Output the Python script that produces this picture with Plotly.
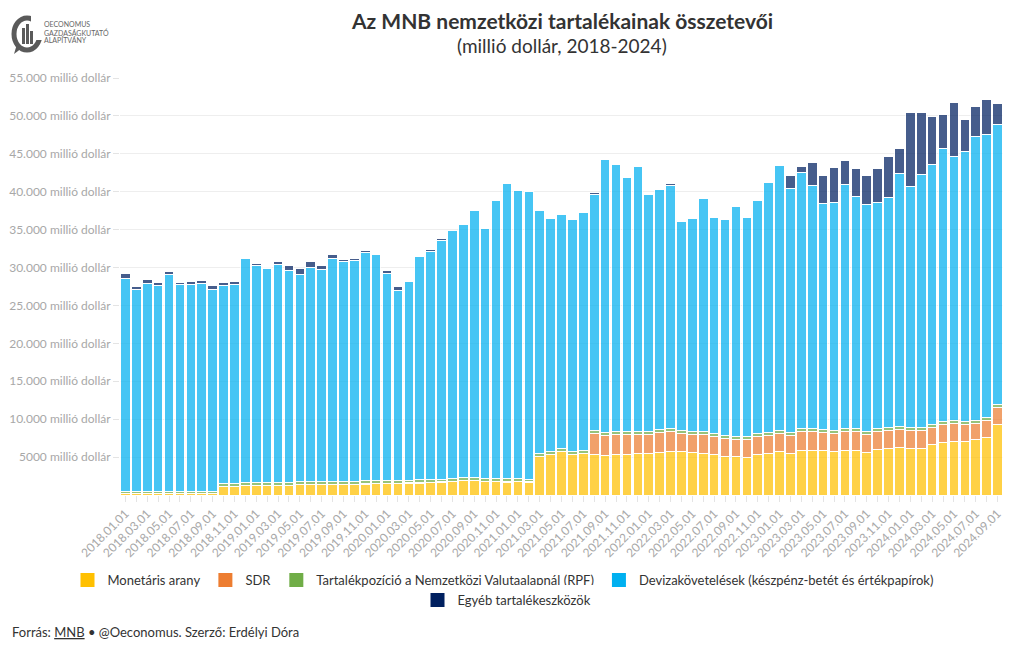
import plotly.graph_objects as go

# ---------------- DATA ----------------
dates = [
    "2018.01.01", "2018.02.01", "2018.03.01", "2018.04.01", "2018.05.01", "2018.06.01",
    "2018.07.01", "2018.08.01", "2018.09.01", "2018.10.01", "2018.11.01", "2018.12.01",
    "2019.01.01", "2019.02.01", "2019.03.01", "2019.04.01", "2019.05.01", "2019.06.01",
    "2019.07.01", "2019.08.01", "2019.09.01", "2019.10.01", "2019.11.01", "2019.12.01",
    "2020.01.01", "2020.02.01", "2020.03.01", "2020.04.01", "2020.05.01", "2020.06.01",
    "2020.07.01", "2020.08.01", "2020.09.01", "2020.10.01", "2020.11.01", "2020.12.01",
    "2021.01.01", "2021.02.01", "2021.03.01", "2021.04.01", "2021.05.01", "2021.06.01",
    "2021.07.01", "2021.08.01", "2021.09.01", "2021.10.01", "2021.11.01", "2021.12.01",
    "2022.01.01", "2022.02.01", "2022.03.01", "2022.04.01", "2022.05.01", "2022.06.01",
    "2022.07.01", "2022.08.01", "2022.09.01", "2022.10.01", "2022.11.01", "2022.12.01",
    "2023.01.01", "2023.02.01", "2023.03.01", "2023.04.01", "2023.05.01", "2023.06.01",
    "2023.07.01", "2023.08.01", "2023.09.01", "2023.10.01", "2023.11.01", "2023.12.01",
    "2024.01.01", "2024.02.01", "2024.03.01", "2024.04.01", "2024.05.01", "2024.06.01",
    "2024.07.01", "2024.08.01", "2024.09.01",
]

monetaris_arany = [
    140, 140, 140, 140, 140, 140, 140, 140, 140,
    1100, 1130, 1200, 1230, 1250, 1200, 1270, 1320, 1350, 1400, 1370, 1380, 1400,
    1440, 1480, 1480, 1500, 1550, 1560, 1640, 1680, 1720, 1900, 1860, 1790, 1800,
    1700, 1760, 1680,
    5060, 5280, 5720, 5280, 5420, 5370, 5190, 5370, 5370, 5460, 5420, 5640, 5720,
    5680, 5550, 5420, 5280, 5110, 5020, 4980, 5370, 5500, 5720, 5460, 5900, 5900,
    5860, 5770, 5810, 5810, 5640, 5990, 6070, 6210, 6120, 6160, 6600, 6910, 7000,
    7000, 7270, 7620, 9340,
]

sdr = [40] * 43 + [
    2690, 2600, 2560, 2560, 2510, 2510, 2590, 2600, 2470, 2470, 2510, 2430, 2380,
    2330, 2370, 2340, 2340, 2430, 2380, 2510, 2470, 2420, 2380, 2560, 2510, 2380,
    2380, 2430, 2380, 2380, 2340, 2340, 2380, 2380, 2290, 2200, 2160, 2190,
]

rpf = [300] * 9 + [380] * 29 + [400] * 43

devizakovetelesek = [
    28140, 26640, 27480, 27170, 28620, 27220, 27240, 27430, 26690,
    26050, 26280, 29510, 28640, 28140, 28760, 27940, 27360, 28180, 27860, 29430,
    28980, 29130, 30150, 29760, 27250, 25030, 26130, 29420, 30080, 31450, 32720,
    33380, 35220, 32880, 36600, 39020, 37920, 37930,
    31960, 30770, 30880, 30680, 31350,
    31240, 36000, 35250, 33580, 34970, 31280, 31660, 32100, 27570, 28020, 30750,
    28460, 28470, 30280, 28820, 30710, 32960, 34850, 32140, 33680, 32050, 29720,
    29980, 32140, 30610, 29850, 29850, 30380, 33370, 31750, 33370, 34250, 35970,
    34830, 35660, 37380, 37380, 36950,
]

egyeb = [
    530, 400, 400, 350, 360, 350, 380, 400, 440, 430, 310, 140, 310, 180, 440,
    620, 750, 830, 530, 530, 260, 270, 220, 180, 480, 490, 170, 210, 180, 270,
    60, 60, 60, 50, 60, 80, 60, 150, 60, 60, 80, 60, 80, 150, 60, 60, 60, 60,
    60, 170, 310, 80, 60, 60, 60, 60, 60, 60, 60, 60, 60,
    1720, 790, 2990, 3740, 4670, 3170, 3730, 3870, 4400, 5410, 3390, 9770, 8150,
    6390, 4580, 7130, 4190, 4050, 4620, 2730,
]

series_names = [
    "Monetáris arany",
    "SDR",
    "Tartalékpozíció a Nemzetközi Valutaalapnál (RPF)",
    "Devizakövetelések (készpénz-betét és értékpapírok)",
    "Egyéb tartalékeszközök",
]
series_values = [monetaris_arany, sdr, rpf, devizakovetelesek, egyeb]
series_colors = ["#FFC000", "#ED7D31", "#70AD47", "#00B0F0", "#002060"]

ytick_vals = [5000, 10000, 15000, 20000, 25000, 30000, 35000, 40000, 45000, 50000, 55000]
ytick_text = ["5000 millió dollár", "10.000 millió dollár", "15.000 millió dollár",
              "20.000 millió dollár", "25.000 millió dollár", "30.000 millió dollár",
              "35.000 millió dollár", "40.000 millió dollár", "45.000 millió dollár",
              "50.000 millió dollár", "55.000 millió dollár"]

FONT = "Lato"

# page body adds an 8px margin: work in reference coordinates minus 8
OFF = 8
W, H = 1020 - OFF, 650 - OFF
PLOT_L, PLOT_R, PLOT_T, PLOT_B = 120 - OFF, 1003 - OFF, 78 - OFF, 495 - OFF


def px(x):  # reference pixel x -> paper
    return (x - OFF - PLOT_L) / (PLOT_R - PLOT_L)


def py(y):  # reference pixel y -> paper
    return (PLOT_B - (y - OFF)) / (PLOT_B - PLOT_T)


# ---------------- FIGURE ----------------
fig = go.Figure()

for name, vals, col in zip(series_names, series_values, series_colors):
    fig.add_trace(go.Bar(
        x=dates, y=vals, name=name, showlegend=False,
        marker=dict(color=col, opacity=0.72, line=dict(color="white", width=1)),
        hovertemplate="%{x}<br>" + name + ": %{y}<extra></extra>",
    ))

for i, (name, col) in enumerate(zip(series_names, series_colors)):
    fig.add_trace(go.Scatter(
        x=[None], y=[None], mode="markers", name=name,
        marker=dict(symbol="square", size=14, color=col),
        legend="legend2" if i == 4 else "legend",
        hoverinfo="skip",
    ))

xtext = [d if i % 2 == 0 else "" for i, d in enumerate(dates)]

fig.update_layout(
    width=W, height=H,
    barmode="stack",
    bargap=0.12,
    plot_bgcolor="white",
    paper_bgcolor="white",
    font=dict(family=FONT, color="#333333"),
    margin=dict(l=PLOT_L, r=W - PLOT_R, t=PLOT_T, b=H - PLOT_B, autoexpand=False),
    xaxis=dict(
        type="category",
        tickmode="array", tickvals=dates, ticktext=xtext,
        tickangle=-45,
        ticks="outside", ticklen=6, tickcolor="#e4e4e4",
        tickfont=dict(size=12, color="#a8a8a8", family=FONT),
        showgrid=False, showline=False, zeroline=False,
    ),
    yaxis=dict(
        range=[0, 55000],
        tickmode="array", tickvals=ytick_vals, ticktext=ytick_text,
        ticks="outside", ticklen=6, tickcolor="#e4e4e4",
        tickfont=dict(size=12, color="#a8a8a8", family=FONT),
        showgrid=True, gridcolor="#eeeeee", gridwidth=1,
        zeroline=False, showline=False,
    ),
    legend=dict(
        orientation="h", x=px(503), xanchor="center", y=py(565), yanchor="top",
        font=dict(size=13, color="#333333", family=FONT),
        itemwidth=30, itemclick=False, traceorder="normal",
    ),
    legend2=dict(
        orientation="h", x=px(507), xanchor="center", y=py(585), yanchor="top",
        font=dict(size=13, color="#333333", family=FONT),
        itemwidth=30, itemclick=False, traceorder="normal",
    ),
)

# title and subtitle
fig.add_annotation(
    text="<b>Az MNB nemzetközi tartalékainak összetevői</b>",
    xref="paper", yref="paper", x=0.5, y=py(21),
    xanchor="center", yanchor="middle", showarrow=False,
    font=dict(size=21, color="#333333", family=FONT),
)
fig.add_annotation(
    text="(millió dollár, 2018-2024)",
    xref="paper", yref="paper", x=0.5, y=py(45),
    xanchor="center", yanchor="middle", showarrow=False,
    font=dict(size=19, color="#333333", family=FONT),
)

# footer
fig.add_annotation(
    text="Forrás: <u>MNB</u> • @Oeconomus. Szerző: Erdélyi Dóra",
    xref="paper", yref="paper", x=px(10), y=py(632),
    xanchor="left", yanchor="middle", showarrow=False,
    font=dict(size=13, color="#333333", family=FONT),
)

# logo (decorative)
shapes = []
shapes.append(dict(type="circle", xref="paper", yref="paper",
                   x0=px(14), x1=px(40), y0=py(50), y1=py(18),
                   line=dict(color="#5a5a5a", width=5), fillcolor="rgba(0,0,0,0)"))
shapes.append(dict(type="rect", xref="paper", yref="paper",
                   x0=px(31), x1=px(44), y0=py(40), y1=py(14),
                   line=dict(width=0), fillcolor="white"))
for (bx0, bx1, btop) in [(22, 25, 28), (26, 29, 24), (30, 33, 31)]:
    shapes.append(dict(type="rect", xref="paper", yref="paper",
                       x0=px(bx0), x1=px(bx1), y0=py(44), y1=py(btop),
                       line=dict(width=0), fillcolor="#5a5a5a"))
shapes.append(dict(type="path", xref="paper", yref="paper",
                   path=f"M {px(17)} {py(44)} L {px(14)} {py(54)} L {px(22)} {py(48)} Z",
                   line=dict(width=0), fillcolor="#5a5a5a"))
fig.update_layout(shapes=shapes)

for i, t in enumerate(["OECONOMUS", "GAZDASÁGKUTATÓ", "ALAPÍTVÁNY"]):
    fig.add_annotation(
        text=t, xref="paper", yref="paper", x=px(42), y=py(24 + i * 8),
        xanchor="left", yanchor="middle", showarrow=False,
        font=dict(size=7, color="#666666", family=FONT),
    )

fig.write_html("out.html")
